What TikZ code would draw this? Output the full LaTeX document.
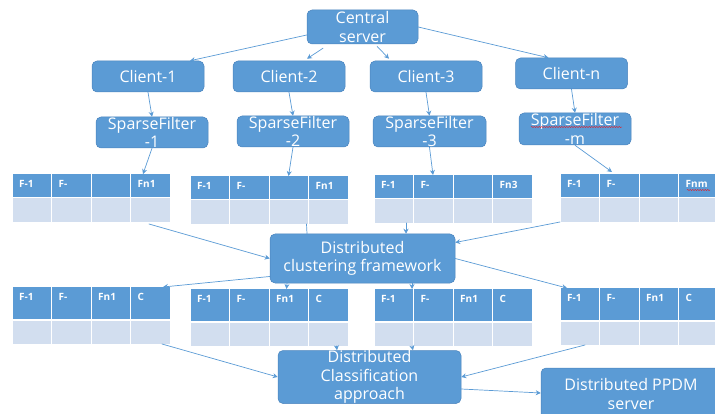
\documentclass[tikz,border=0pt]{standalone}
\usepackage{fontspec}
\setmainfont{Open Sans}
\usepackage{tikz}
\usetikzlibrary{arrows.meta,decorations.pathmorphing}

\definecolor{boxblue}{HTML}{5B9BD5}
\definecolor{boxedge}{HTML}{4A84BD}
\definecolor{linkblue}{HTML}{5B9BD5}
\definecolor{rowgrey}{HTML}{D2DEEF}

\tikzset{
  box/.style={rectangle, rounded corners=5pt, fill=boxblue, draw=boxedge, line width=0.5pt,
    text=white, align=center, inner sep=0pt, font=\fontsize{16}{18.5}\selectfont},
  tablearea/.style={rectangle, inner sep=0pt, outer sep=0pt},
  cell/.style={anchor=west, inner sep=0pt, text=white, text height=7pt, text depth=0pt,
    font=\fontsize{10}{12}\selectfont\bfseries},
  link/.style={->, linkblue, line width=0.7pt},
  spell/.style={red, line width=0.4pt, decorate, decoration={snake, amplitude=0.5pt, segment length=2.5pt}},
}

% feature table: name, left, top, header height, four header labels
\newcommand{\ftable}[8]{%
  \node[tablearea, minimum width=158pt, minimum height=#4pt+25pt] (#1) at (#2+79, #3+#4/2+12.5) {};
  \foreach \c/\lab in {0/#5,1/#6,2/#7,3/#8} {
    \fill[boxblue] (#2+\c*39.5+0.5, #3) rectangle ++(38.5, #4);
    \fill[rowgrey] (#2+\c*39.5+0.5, #3+#4+1.5) rectangle ++(38.5, 23.5);
    \node[cell] at (#2+\c*39.5+7, #3+10) {\lab};
  }%
}

\begin{document}
\begin{tikzpicture}[x=1pt, y=-1pt, >={Stealth[length=5pt,width=5pt]}, line cap=round, line join=round]
    \useasboundingbox (0,0) rectangle (715,414);

    % Server and clients
    \node[box, minimum width=111pt, minimum height=34pt] (cs) at (362.5,27) {Central\\server};
    \node[box, minimum width=112pt, minimum height=31pt] (c1) at (148,76.5) {Client-1};
    \node[box, minimum width=112pt, minimum height=31pt] (c2) at (289,76.5) {Client-2};
    \node[box, minimum width=112pt, minimum height=31pt] (c3) at (426,76.5) {Client-3};
    \node[box, minimum width=112pt, minimum height=31pt] (cn) at (571.5,73.5) {Client-n};

    % Sparse filters
    \node[box, minimum width=112pt, minimum height=31pt] (sf1) at (152,132.5) {SparseFilter\\-1};
    \node[box, minimum width=112pt, minimum height=31pt] (sf2) at (293,131.5) {SparseFilter\\-2};
    \node[box, minimum width=113pt, minimum height=31pt] (sf3) at (429.5,131.5) {SparseFilter\\-3};
    \node[box, minimum width=112pt, minimum height=32pt] (sfm) at (575,129) {SparseFilter\\-m};

    % Filtered tables
    \ftable{t1}{12}{174}{23}{F-1}{F-}{}{Fn1}
    \ftable{t2}{190}{176}{23}{F-1}{F-}{}{Fn1}
    \ftable{t3}{374}{175}{23}{F-1}{F-}{}{Fn3}
    \ftable{t4}{560}{174}{23}{F-1}{F-}{}{Fnm}

    \node[box, minimum width=185pt, minimum height=49pt] (dcf) at (362.5,258.5) {Distributed\\clustering framework};

    % Clustered tables
    \ftable{t5}{12}{287}{32}{F-1}{F-}{Fn1}{C}
    \ftable{t6}{190}{289}{32}{F-1}{F-}{Fn1}{C}
    \ftable{t7}{374}{289}{32}{F-1}{F-}{Fn1}{C}
    \ftable{t8}{560}{288}{32}{F-1}{F-}{Fn1}{C}

    \node[box, minimum width=183pt, minimum height=50pt] (dca) at (369.5,377) {Distributed\\Classification\\approach};
    \node[box, minimum width=180pt, minimum height=52pt] (ppdm) at (631,394) {Distributed PPDM\\server};

    % Server to clients
    \draw[link] ([yshift=-8pt]cs.west) -- ([xshift=42pt]c1.north);
    \draw[link] ([xshift=-39.5pt,yshift=-4pt]cs.south) -- ([xshift=18pt,yshift=2pt]c2.north);
    \draw[link] ([xshift=14.5pt,yshift=-2pt]cs.south) -- ([xshift=-37pt,yshift=2pt]c3.north);
    \draw[link] (cs.east) -- ([xshift=-23pt]cn.north);

    % Clients to filters
    \draw[link] (c1.south) -- (sf1.north);
    \draw[link] (c2.south) -- (sf2.north);
    \draw[link] (c3.south) -- (sf3.north);
    \draw[link] (cn.south) -- (sfm.north);

    % Filters to tables
    \draw[link] (sf1.south) -- ([xshift=52pt]t1.north);
    \draw[link] (sf2.south) -- ([xshift=19.5pt]t2.north);
    \draw[link] (sf3.south) -- ([xshift=-20pt]t3.north);
    \draw[link] (sfm.south) -- ([xshift=-27pt,yshift=2pt]t4.north);

    % Tables into clustering
    \draw[link] ([xshift=58pt,yshift=-2pt]t1.south) -- (dcf.west);
    \draw[linkblue, line width=0.7pt] ([xshift=37.5pt]t2.south) -- ([xshift=-55.5pt]dcf.north);
    \draw[link] ([xshift=-47pt]t3.south) -- ([xshift=43.5pt]dcf.north);
    \draw[link] (t4.south west) -- ([yshift=16pt]dcf.east);

    % Clustering out to tables
    \draw[link] ([yshift=-18pt]dcf.west) -- ([xshift=72pt]t5.north);
    \draw[link] ([xshift=-75.5pt]dcf.south) -- ([xshift=17.5pt]t6.north);
    \draw[link] ([xshift=49.5pt]dcf.south) -- ([xshift=-41pt]t7.north);
    \draw[link] (dcf.east) -- ([xshift=-72pt]t8.north);

    % Tables into classification
    \draw[link] ([xshift=71pt]t5.south) -- (dca.west);
    \draw[link] ([xshift=67.5pt]t6.south) -- ([xshift=-32.5pt]dca.north);
    \draw[link] ([xshift=-41pt]t7.south) -- ([xshift=43.5pt]dca.north);
    \draw[link] ([xshift=-54pt]t8.south) -- (dca.east);

    \draw[link] ([yshift=-12pt]dca.east) -- ([yshift=1pt]ppdm.west);

    % spell-check marks
    \draw[spell] (531,127) -- (622,127);
    \draw[spell] (687,190) -- (710,190);
\end{tikzpicture}
\end{document}
